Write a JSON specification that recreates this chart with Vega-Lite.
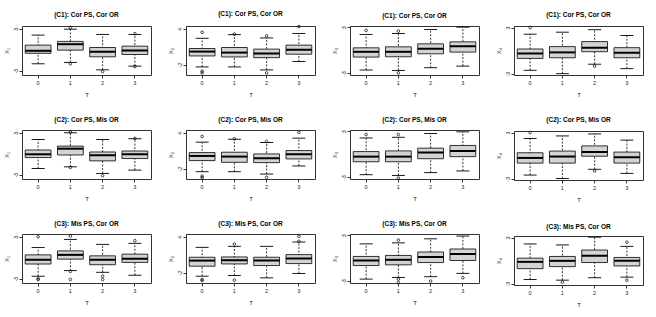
{
"$schema":"https://vega.github.io/schema/vega-lite/v6.json",
"padding":{"left":2,"top":10,"right":0,"bottom":0},
"background":"white",
"datasets":{"d":[
{"c":"(C1): Cor PS, Cor OR","v":"X1","T":0,"lo":-2.0,"q1":-0.5,"med":-0.14,"q3":0.67,"hi":2.1},
{"c":"(C1): Cor PS, Cor OR","v":"X1","T":1,"lo":-1.8,"q1":-0.05,"med":0.8,"q3":1.2,"hi":2.95},
{"c":"(C1): Cor PS, Cor OR","v":"X1","T":2,"lo":-2.86,"q1":-1.0,"med":-0.29,"q3":0.33,"hi":2.2},
{"c":"(C1): Cor PS, Cor OR","v":"X1","T":3,"lo":-2.33,"q1":-0.67,"med":-0.1,"q3":0.52,"hi":2.2},
{"c":"(C1): Cor PS, Cor OR","v":"X1","T":1,"out":3.2},
{"c":"(C1): Cor PS, Cor OR","v":"X1","T":1,"out":-2.0},
{"c":"(C1): Cor PS, Cor OR","v":"X1","T":2,"out":-3.1},
{"c":"(C1): Cor PS, Cor OR","v":"X1","T":3,"out":2.3},
{"c":"(C1): Cor PS, Cor OR","v":"X1","T":3,"out":-2.4},
{"c":"(C1): Cor PS, Cor OR","v":"X2","T":0,"lo":-2.4,"q1":-0.56,"med":0.17,"q3":0.68,"hi":2.4},
{"c":"(C1): Cor PS, Cor OR","v":"X2","T":1,"lo":-2.4,"q1":-0.73,"med":0.0,"q3":0.85,"hi":3.0},
{"c":"(C1): Cor PS, Cor OR","v":"X2","T":2,"lo":-2.9,"q1":-0.85,"med":-0.17,"q3":0.58,"hi":2.45},
{"c":"(C1): Cor PS, Cor OR","v":"X2","T":3,"lo":-1.5,"q1":-0.27,"med":0.46,"q3":1.25,"hi":3.2},
{"c":"(C1): Cor PS, Cor OR","v":"X2","T":0,"out":3.4},
{"c":"(C1): Cor PS, Cor OR","v":"X2","T":0,"out":-3.1},
{"c":"(C1): Cor PS, Cor OR","v":"X2","T":0,"out":-3.4},
{"c":"(C1): Cor PS, Cor OR","v":"X2","T":1,"out":3.1},
{"c":"(C1): Cor PS, Cor OR","v":"X2","T":2,"out":2.8},
{"c":"(C1): Cor PS, Cor OR","v":"X2","T":2,"out":-3.4},
{"c":"(C1): Cor PS, Cor OR","v":"X2","T":3,"out":4.35},
{"c":"(C1): Cor PS, Cor OR","v":"X3","T":0,"lo":-2.6,"q1":-0.91,"med":-0.22,"q3":0.3,"hi":2.05},
{"c":"(C1): Cor PS, Cor OR","v":"X3","T":1,"lo":-2.65,"q1":-0.87,"med":-0.22,"q3":0.43,"hi":2.17},
{"c":"(C1): Cor PS, Cor OR","v":"X3","T":2,"lo":-2.3,"q1":-0.48,"med":0.17,"q3":0.82,"hi":2.7},
{"c":"(C1): Cor PS, Cor OR","v":"X3","T":3,"lo":-2.09,"q1":-0.26,"med":0.52,"q3":1.08,"hi":3.0},
{"c":"(C1): Cor PS, Cor OR","v":"X3","T":0,"out":2.57},
{"c":"(C1): Cor PS, Cor OR","v":"X3","T":1,"out":2.48},
{"c":"(C1): Cor PS, Cor OR","v":"X3","T":1,"out":-2.96},
{"c":"(C1): Cor PS, Cor OR","v":"X4","T":0,"lo":-2.54,"q1":-1.0,"med":-0.36,"q3":0.22,"hi":2.14},
{"c":"(C1): Cor PS, Cor OR","v":"X4","T":1,"lo":-2.98,"q1":-0.92,"med":-0.22,"q3":0.53,"hi":2.4},
{"c":"(C1): Cor PS, Cor OR","v":"X4","T":2,"lo":-1.75,"q1":-0.13,"med":0.39,"q3":1.18,"hi":2.72},
{"c":"(C1): Cor PS, Cor OR","v":"X4","T":3,"lo":-2.33,"q1":-0.92,"med":-0.26,"q3":0.39,"hi":1.97},
{"c":"(C1): Cor PS, Cor OR","v":"X4","T":0,"out":3.0},
{"c":"(C1): Cor PS, Cor OR","v":"X4","T":2,"out":-2.0},
{"c":"(C2): Cor PS, Mis OR","v":"X1","T":0,"lo":-2.1,"q1":-0.54,"med":-0.07,"q3":0.54,"hi":2.05},
{"c":"(C2): Cor PS, Mis OR","v":"X1","T":1,"lo":-1.86,"q1":-0.17,"med":0.73,"q3":1.1,"hi":3.0},
{"c":"(C2): Cor PS, Mis OR","v":"X1","T":2,"lo":-2.8,"q1":-1.01,"med":-0.21,"q3":0.26,"hi":2.05},
{"c":"(C2): Cor PS, Mis OR","v":"X1","T":3,"lo":-2.33,"q1":-0.68,"med":-0.07,"q3":0.4,"hi":2.15},
{"c":"(C2): Cor PS, Mis OR","v":"X1","T":1,"out":3.1},
{"c":"(C2): Cor PS, Mis OR","v":"X1","T":1,"out":-1.95},
{"c":"(C2): Cor PS, Mis OR","v":"X1","T":2,"out":-3.14},
{"c":"(C2): Cor PS, Mis OR","v":"X1","T":3,"out":2.2},
{"c":"(C2): Cor PS, Mis OR","v":"X2","T":0,"lo":-2.53,"q1":-0.67,"med":0.11,"q3":0.67,"hi":2.42},
{"c":"(C2): Cor PS, Mis OR","v":"X2","T":1,"lo":-2.53,"q1":-0.96,"med":0.0,"q3":0.73,"hi":2.9},
{"c":"(C2): Cor PS, Mis OR","v":"X2","T":2,"lo":-2.92,"q1":-1.01,"med":-0.28,"q3":0.45,"hi":2.36},
{"c":"(C2): Cor PS, Mis OR","v":"X2","T":3,"lo":-1.57,"q1":-0.39,"med":0.39,"q3":1.01,"hi":3.09},
{"c":"(C2): Cor PS, Mis OR","v":"X2","T":0,"out":3.37},
{"c":"(C2): Cor PS, Mis OR","v":"X2","T":0,"out":-3.26},
{"c":"(C2): Cor PS, Mis OR","v":"X2","T":0,"out":-3.54},
{"c":"(C2): Cor PS, Mis OR","v":"X2","T":1,"out":2.98},
{"c":"(C2): Cor PS, Mis OR","v":"X2","T":2,"out":2.53},
{"c":"(C2): Cor PS, Mis OR","v":"X2","T":2,"out":-3.48},
{"c":"(C2): Cor PS, Mis OR","v":"X2","T":3,"out":4.05},
{"c":"(C2): Cor PS, Mis OR","v":"X3","T":0,"lo":-2.69,"q1":-1.0,"med":-0.33,"q3":0.33,"hi":2.11},
{"c":"(C2): Cor PS, Mis OR","v":"X3","T":1,"lo":-2.78,"q1":-1.0,"med":-0.33,"q3":0.42,"hi":2.2},
{"c":"(C2): Cor PS, Mis OR","v":"X3","T":2,"lo":-2.42,"q1":-0.6,"med":0.2,"q3":0.78,"hi":2.69},
{"c":"(C2): Cor PS, Mis OR","v":"X3","T":3,"lo":-2.2,"q1":-0.33,"med":0.42,"q3":1.13,"hi":2.91},
{"c":"(C2): Cor PS, Mis OR","v":"X3","T":0,"out":2.56},
{"c":"(C2): Cor PS, Mis OR","v":"X3","T":1,"out":2.56},
{"c":"(C2): Cor PS, Mis OR","v":"X3","T":1,"out":-3.13},
{"c":"(C2): Cor PS, Mis OR","v":"X4","T":0,"lo":-2.51,"q1":-0.96,"med":-0.29,"q3":0.38,"hi":2.24},
{"c":"(C2): Cor PS, Mis OR","v":"X4","T":1,"lo":-2.96,"q1":-0.96,"med":-0.11,"q3":0.6,"hi":2.56},
{"c":"(C2): Cor PS, Mis OR","v":"X4","T":2,"lo":-1.76,"q1":-0.07,"med":0.47,"q3":1.27,"hi":2.82},
{"c":"(C2): Cor PS, Mis OR","v":"X4","T":3,"lo":-2.29,"q1":-0.96,"med":-0.2,"q3":0.47,"hi":2.02},
{"c":"(C2): Cor PS, Mis OR","v":"X4","T":0,"out":3.0},
{"c":"(C2): Cor PS, Mis OR","v":"X4","T":2,"out":-1.98},
{"c":"(C3): Mis PS, Cor OR","v":"X1","T":0,"lo":-2.63,"q1":-0.89,"med":-0.28,"q3":0.42,"hi":1.46},
{"c":"(C3): Mis PS, Cor OR","v":"X1","T":1,"lo":-1.83,"q1":-0.19,"med":0.42,"q3":0.99,"hi":2.63},
{"c":"(C3): Mis PS, Cor OR","v":"X1","T":2,"lo":-2.07,"q1":-0.99,"med":-0.28,"q3":0.28,"hi":1.92},
{"c":"(C3): Mis PS, Cor OR","v":"X1","T":3,"lo":-2.49,"q1":-0.66,"med":-0.14,"q3":0.52,"hi":2.07},
{"c":"(C3): Mis PS, Cor OR","v":"X1","T":0,"out":3.0},
{"c":"(C3): Mis PS, Cor OR","v":"X1","T":0,"out":-3.0},
{"c":"(C3): Mis PS, Cor OR","v":"X1","T":0,"out":-3.1},
{"c":"(C3): Mis PS, Cor OR","v":"X1","T":1,"out":3.1},
{"c":"(C3): Mis PS, Cor OR","v":"X1","T":1,"out":-1.95},
{"c":"(C3): Mis PS, Cor OR","v":"X1","T":1,"out":-3.1},
{"c":"(C3): Mis PS, Cor OR","v":"X1","T":2,"out":-2.63},
{"c":"(C3): Mis PS, Cor OR","v":"X1","T":2,"out":-3.1},
{"c":"(C3): Mis PS, Cor OR","v":"X1","T":3,"out":2.44},
{"c":"(C3): Mis PS, Cor OR","v":"X2","T":0,"lo":-2.61,"q1":-0.94,"med":0.0,"q3":0.56,"hi":2.22},
{"c":"(C3): Mis PS, Cor OR","v":"X2","T":1,"lo":-2.5,"q1":-0.56,"med":0.06,"q3":0.61,"hi":2.39},
{"c":"(C3): Mis PS, Cor OR","v":"X2","T":2,"lo":-2.89,"q1":-0.83,"med":0.0,"q3":0.56,"hi":2.39},
{"c":"(C3): Mis PS, Cor OR","v":"X2","T":3,"lo":-2.17,"q1":-0.5,"med":0.33,"q3":1.0,"hi":3.11},
{"c":"(C3): Mis PS, Cor OR","v":"X2","T":0,"out":-3.17},
{"c":"(C3): Mis PS, Cor OR","v":"X2","T":0,"out":-3.33},
{"c":"(C3): Mis PS, Cor OR","v":"X2","T":1,"out":2.78},
{"c":"(C3): Mis PS, Cor OR","v":"X2","T":1,"out":-3.28},
{"c":"(C3): Mis PS, Cor OR","v":"X2","T":3,"out":3.22},
{"c":"(C3): Mis PS, Cor OR","v":"X2","T":3,"out":4.06},
{"c":"(C3): Mis PS, Cor OR","v":"X3","T":0,"lo":-2.74,"q1":-0.97,"med":-0.31,"q3":0.22,"hi":1.86},
{"c":"(C3): Mis PS, Cor OR","v":"X3","T":1,"lo":-2.52,"q1":-0.88,"med":-0.22,"q3":0.35,"hi":1.99},
{"c":"(C3): Mis PS, Cor OR","v":"X3","T":2,"lo":-2.43,"q1":-0.58,"med":0.13,"q3":0.8,"hi":2.52},
{"c":"(C3): Mis PS, Cor OR","v":"X3","T":3,"lo":-1.99,"q1":-0.31,"med":0.53,"q3":1.19,"hi":2.88},
{"c":"(C3): Mis PS, Cor OR","v":"X3","T":1,"out":2.35},
{"c":"(C3): Mis PS, Cor OR","v":"X3","T":1,"out":-2.74},
{"c":"(C3): Mis PS, Cor OR","v":"X3","T":1,"out":-3.19},
{"c":"(C3): Mis PS, Cor OR","v":"X3","T":2,"out":-3.0},
{"c":"(C3): Mis PS, Cor OR","v":"X3","T":3,"out":-2.57},
{"c":"(C3): Mis PS, Cor OR","v":"X4","T":0,"lo":-2.43,"q1":-1.03,"med":-0.15,"q3":0.33,"hi":2.17},
{"c":"(C3): Mis PS, Cor OR","v":"X4","T":1,"lo":-2.52,"q1":-0.77,"med":-0.02,"q3":0.55,"hi":2.04},
{"c":"(C3): Mis PS, Cor OR","v":"X4","T":2,"lo":-2.21,"q1":-0.24,"med":0.64,"q3":1.38,"hi":3.05},
{"c":"(C3): Mis PS, Cor OR","v":"X4","T":3,"lo":-2.13,"q1":-0.68,"med":-0.02,"q3":0.42,"hi":1.86},
{"c":"(C3): Mis PS, Cor OR","v":"X4","T":1,"out":-2.78},
{"c":"(C3): Mis PS, Cor OR","v":"X4","T":3,"out":2.39},
{"c":"(C3): Mis PS, Cor OR","v":"X4","T":3,"out":-2.52}
]},
"data":{"name":"d"},
"spacing":14,
"hconcat":[
{"transform":[{"filter":"datum.v === 'X1'"}],
 "facet":{"field":"c","type":"nominal","title":null},
 "columns":1,"spacing":18,
 "resolve":{"axis":{"x":"independent","y":"independent"}},
 "spec":{"width":129,"height":49,
  "layer":[
   {"transform":[{"filter":"isValid(datum.med)"}],"mark":{"type":"rule","strokeDash":[2,1.5],"strokeWidth":0.8,"color":"black"},
    "encoding":{"x":{"field":"T","type":"ordinal","bandPosition":0.5,"title":"T","scale":{"paddingInner":0.2,"paddingOuter":0.1}},
     "y":{"field":"lo","type":"quantitative","title":"X₁","scale":{"domain":[-3.6,3.4],"nice":false,"zero":false},"axis":{"values":[-3,-2,-1,0,1,2,3],"labelExpr":"datum.value % 2 != 0 ? '' + datum.value : ''"}},
     "y2":{"field":"hi"}}},
   {"transform":[{"filter":"isValid(datum.med)"}],"mark":{"type":"bar","fill":"#d3d3d3","stroke":"black","strokeWidth":0.8},
    "encoding":{"x":{"field":"T","type":"ordinal","title":"T"},"y":{"field":"q1","type":"quantitative","title":"X₁"},"y2":{"field":"q3"}}},
   {"transform":[{"filter":"isValid(datum.med)"}],"mark":{"type":"tick","thickness":2,"size":25.8,"color":"black","opacity":1},
    "encoding":{"x":{"field":"T","type":"ordinal","title":"T"},"y":{"field":"med","type":"quantitative","title":"X₁"}}},
   {"transform":[{"filter":"isValid(datum.med)"}],"mark":{"type":"tick","thickness":0.9,"size":13,"color":"black","opacity":1},
    "encoding":{"x":{"field":"T","type":"ordinal","title":"T"},"y":{"field":"lo","type":"quantitative","title":"X₁"}}},
   {"transform":[{"filter":"isValid(datum.med)"}],"mark":{"type":"tick","thickness":0.9,"size":13,"color":"black","opacity":1},
    "encoding":{"x":{"field":"T","type":"ordinal","title":"T"},"y":{"field":"hi","type":"quantitative","title":"X₁"}}},
   {"transform":[{"filter":"isValid(datum.out)"}],"mark":{"type":"point","filled":false,"size":7,"stroke":"black","strokeWidth":0.7,"opacity":1},
    "encoding":{"x":{"field":"T","type":"ordinal","title":"T"},"y":{"field":"out","type":"quantitative","title":"X₁"}}}
  ]}},
{"transform":[{"filter":"datum.v === 'X2'"}],
 "facet":{"field":"c","type":"nominal","title":null},
 "columns":1,"spacing":18,
 "resolve":{"axis":{"x":"independent","y":"independent"}},
 "spec":{"width":129,"height":49,
  "layer":[
   {"transform":[{"filter":"isValid(datum.med)"}],"mark":{"type":"rule","strokeDash":[2,1.5],"strokeWidth":0.8,"color":"black"},
    "encoding":{"x":{"field":"T","type":"ordinal","bandPosition":0.5,"title":"T","scale":{"paddingInner":0.2,"paddingOuter":0.1}},
     "y":{"field":"lo","type":"quantitative","title":"X₂","scale":{"domain":[-3.75,4.45],"nice":false,"zero":false},"axis":{"values":[-2,0,2,4],"labelExpr":"'' + datum.value"}},
     "y2":{"field":"hi"}}},
   {"transform":[{"filter":"isValid(datum.med)"}],"mark":{"type":"bar","fill":"#d3d3d3","stroke":"black","strokeWidth":0.8},
    "encoding":{"x":{"field":"T","type":"ordinal","title":"T"},"y":{"field":"q1","type":"quantitative","title":"X₂"},"y2":{"field":"q3"}}},
   {"transform":[{"filter":"isValid(datum.med)"}],"mark":{"type":"tick","thickness":2,"size":25.8,"color":"black","opacity":1},
    "encoding":{"x":{"field":"T","type":"ordinal","title":"T"},"y":{"field":"med","type":"quantitative","title":"X₂"}}},
   {"transform":[{"filter":"isValid(datum.med)"}],"mark":{"type":"tick","thickness":0.9,"size":13,"color":"black","opacity":1},
    "encoding":{"x":{"field":"T","type":"ordinal","title":"T"},"y":{"field":"lo","type":"quantitative","title":"X₂"}}},
   {"transform":[{"filter":"isValid(datum.med)"}],"mark":{"type":"tick","thickness":0.9,"size":13,"color":"black","opacity":1},
    "encoding":{"x":{"field":"T","type":"ordinal","title":"T"},"y":{"field":"hi","type":"quantitative","title":"X₂"}}},
   {"transform":[{"filter":"isValid(datum.out)"}],"mark":{"type":"point","filled":false,"size":7,"stroke":"black","strokeWidth":0.7,"opacity":1},
    "encoding":{"x":{"field":"T","type":"ordinal","title":"T"},"y":{"field":"out","type":"quantitative","title":"X₂"}}}
  ]}},
{"transform":[{"filter":"datum.v === 'X3'"}],
 "facet":{"field":"c","type":"nominal","title":null},
 "columns":1,"spacing":18,
 "resolve":{"axis":{"x":"independent","y":"independent"}},
 "spec":{"width":129,"height":49,
  "layer":[
   {"transform":[{"filter":"isValid(datum.med)"}],"mark":{"type":"rule","strokeDash":[2,1.5],"strokeWidth":0.8,"color":"black"},
    "encoding":{"x":{"field":"T","type":"ordinal","bandPosition":0.5,"title":"T","scale":{"paddingInner":0.2,"paddingOuter":0.1}},
     "y":{"field":"lo","type":"quantitative","title":"X₃","scale":{"domain":[-3.25,3.15],"nice":false,"zero":false},"axis":{"values":[-3,-2,-1,0,1,2,3],"labelExpr":"(datum.value == 0 || datum.value == -2) ? '' : '' + datum.value"}},
     "y2":{"field":"hi"}}},
   {"transform":[{"filter":"isValid(datum.med)"}],"mark":{"type":"bar","fill":"#d3d3d3","stroke":"black","strokeWidth":0.8},
    "encoding":{"x":{"field":"T","type":"ordinal","title":"T"},"y":{"field":"q1","type":"quantitative","title":"X₃"},"y2":{"field":"q3"}}},
   {"transform":[{"filter":"isValid(datum.med)"}],"mark":{"type":"tick","thickness":2,"size":25.8,"color":"black","opacity":1},
    "encoding":{"x":{"field":"T","type":"ordinal","title":"T"},"y":{"field":"med","type":"quantitative","title":"X₃"}}},
   {"transform":[{"filter":"isValid(datum.med)"}],"mark":{"type":"tick","thickness":0.9,"size":13,"color":"black","opacity":1},
    "encoding":{"x":{"field":"T","type":"ordinal","title":"T"},"y":{"field":"lo","type":"quantitative","title":"X₃"}}},
   {"transform":[{"filter":"isValid(datum.med)"}],"mark":{"type":"tick","thickness":0.9,"size":13,"color":"black","opacity":1},
    "encoding":{"x":{"field":"T","type":"ordinal","title":"T"},"y":{"field":"hi","type":"quantitative","title":"X₃"}}},
   {"transform":[{"filter":"isValid(datum.out)"}],"mark":{"type":"point","filled":false,"size":7,"stroke":"black","strokeWidth":0.7,"opacity":1},
    "encoding":{"x":{"field":"T","type":"ordinal","title":"T"},"y":{"field":"out","type":"quantitative","title":"X₃"}}}
  ]}},
{"transform":[{"filter":"datum.v === 'X4'"}],
 "facet":{"field":"c","type":"nominal","title":null},
 "columns":1,"spacing":18,
 "resolve":{"axis":{"x":"independent","y":"independent"}},
 "spec":{"width":129,"height":49,
  "layer":[
   {"transform":[{"filter":"isValid(datum.med)"}],"mark":{"type":"rule","strokeDash":[2,1.5],"strokeWidth":0.8,"color":"black"},
    "encoding":{"x":{"field":"T","type":"ordinal","bandPosition":0.5,"title":"T","scale":{"paddingInner":0.2,"paddingOuter":0.1}},
     "y":{"field":"lo","type":"quantitative","title":"X₄","scale":{"domain":[-3.15,3.2],"nice":false,"zero":false},"axis":{"values":[-3,-2,-1,0,1,2,3],"labelExpr":"(datum.value == 0 || datum.value == -2) ? '' : '' + datum.value"}},
     "y2":{"field":"hi"}}},
   {"transform":[{"filter":"isValid(datum.med)"}],"mark":{"type":"bar","fill":"#d3d3d3","stroke":"black","strokeWidth":0.8},
    "encoding":{"x":{"field":"T","type":"ordinal","title":"T"},"y":{"field":"q1","type":"quantitative","title":"X₄"},"y2":{"field":"q3"}}},
   {"transform":[{"filter":"isValid(datum.med)"}],"mark":{"type":"tick","thickness":2,"size":25.8,"color":"black","opacity":1},
    "encoding":{"x":{"field":"T","type":"ordinal","title":"T"},"y":{"field":"med","type":"quantitative","title":"X₄"}}},
   {"transform":[{"filter":"isValid(datum.med)"}],"mark":{"type":"tick","thickness":0.9,"size":13,"color":"black","opacity":1},
    "encoding":{"x":{"field":"T","type":"ordinal","title":"T"},"y":{"field":"lo","type":"quantitative","title":"X₄"}}},
   {"transform":[{"filter":"isValid(datum.med)"}],"mark":{"type":"tick","thickness":0.9,"size":13,"color":"black","opacity":1},
    "encoding":{"x":{"field":"T","type":"ordinal","title":"T"},"y":{"field":"hi","type":"quantitative","title":"X₄"}}},
   {"transform":[{"filter":"isValid(datum.out)"}],"mark":{"type":"point","filled":false,"size":7,"stroke":"black","strokeWidth":0.7,"opacity":1},
    "encoding":{"x":{"field":"T","type":"ordinal","title":"T"},"y":{"field":"out","type":"quantitative","title":"X₄"}}}
  ]}}
],
"config":{
 "view":{"stroke":"#333","strokeWidth":1},
 "header":{"labelFontWeight":"bold","labelFontSize":6.5,"labelFont":"Liberation Sans","labelPadding":6,"labelColor":"black"},
 "axis":{"grid":false,"domain":false,"tickColor":"#333","tickSize":3,"labelFont":"Liberation Sans","labelFontSize":5.5,"labelColor":"#222","titleFont":"Liberation Sans","titleFontSize":6,"titleFontWeight":"normal","titleColor":"#222","labelOverlap":false,"labelBound":false},
 "axisX":{"labelPadding":2,"titlePadding":6,"labelAngle":0},
 "axisY":{"labelAngle":-90,"labelAlign":"center","labelBaseline":"bottom","labelPadding":1,"titlePadding":4}
}
}
